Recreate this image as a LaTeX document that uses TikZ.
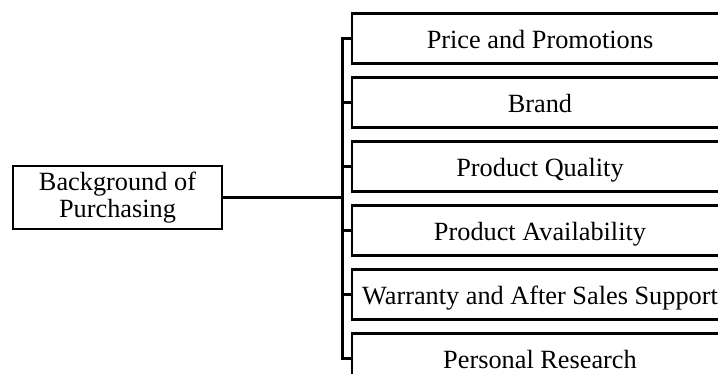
\documentclass[tikz,border=0pt]{standalone}
\usepackage{fontspec}
\setmainfont{Liberation Serif}
\begin{document}
\begin{tikzpicture}[x=0.5pt,y=-0.5pt,
  factor/.style={draw,rectangle,line width=1.25pt,minimum width=188pt,minimum height=25pt,
    inner sep=0pt,text height=9.8pt,text depth=0pt,
    font=\fontsize{13.15}{13.4}\selectfont},
  rootbox/.style={draw,rectangle,line width=1.25pt,minimum width=104.5pt,minimum height=31.5pt,
    inner sep=0pt,align=center,font=\fontsize{13.15}{13.4}\selectfont},
  link/.style={line width=1.5pt}]
\useasboundingbox (0,0) rectangle (718,374);
\clip (0,0) rectangle (718,374);

% root node
\node[rootbox] (root) at (117.5,197.5) {Background of\\Purchasing};

% factor boxes
\node[factor] (f1) at (540,38.5)  {Price and Promotions};
\node[factor] (f2) at (540,102.5) {Brand};
\node[factor] (f3) at (540,166.5) {Product Quality};
\node[factor] (f4) at (540,230.5) {Product Availability};
\node[factor] (f5) at (540,294.5) {Warranty and After Sales Support};
\node[factor] (f6) at (540,358.5) {Personal Research};

% bracket trunk
\coordinate (trunk) at (342,197.5);
\draw[link] (root.east) -- (trunk);
\draw[link] (f1.west) -| (trunk) |- (f6.west);
\foreach \i in {2,...,5}
  \draw[link] (trunk |- f\i.west) -- (f\i.west);
\end{tikzpicture}
\end{document}
